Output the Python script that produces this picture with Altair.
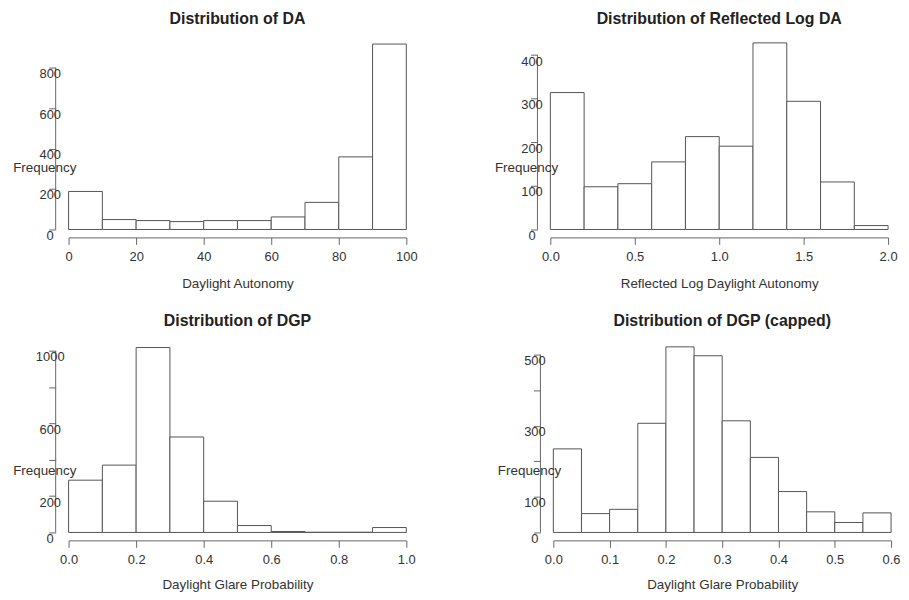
import altair as alt
import pandas as pd

# ---------------- data ----------------
da_starts = [0, 10, 20, 30, 40, 50, 60, 70, 80, 90]
da_counts = [188, 49, 44, 39, 44, 44, 62, 134, 359, 917]

rlda_starts = [0.0, 0.2, 0.4, 0.6, 0.8, 1.0, 1.2, 1.4, 1.6, 1.8]
rlda_counts = [314, 98, 105, 155, 213, 191, 428, 294, 109, 9]

dgp_starts = [0.0, 0.1, 0.2, 0.3, 0.4, 0.5, 0.6, 0.7, 0.8, 0.9]
dgp_counts = [288, 371, 1019, 526, 172, 38, 5, 1, 1, 27]

dgpc_starts = [0.0, 0.05, 0.10, 0.15, 0.20, 0.25, 0.30, 0.35, 0.40, 0.45, 0.50, 0.55]
dgpc_counts = [235, 53, 65, 307, 522, 497, 314, 211, 115, 58, 28, 55]

W = 340
H = 194
FONT = "Liberation Sans"


def panel(title, starts, binw, counts, x_ticks, x_fmt, x_title,
          y_ticks, y_hidden, y_max, title_offset, x_label_pad, x_title_pad):
    df = pd.DataFrame({
        "start": starts,
        "end": [round(s + binw, 4) for s in starts],
        "count": counts,
        "base": [0] * len(starts),
    })
    xscale = alt.Scale(domain=[x_ticks[0], x_ticks[-1]], nice=False, zero=False)
    yscale = alt.Scale(domain=[0, y_max], nice=False)
    if y_hidden:
        expr = " || ".join(f"datum.value == {v}" for v in y_hidden) + " ? '' : datum.label"
    else:
        expr = "datum.label"
    yaxis = alt.Axis(values=y_ticks, labelExpr=expr, format="d", title="Frequency",
                     titleAngle=0, titleX=-11.5, titleY=H - 62.5,
                     titleAlign="center", titleBaseline="middle",
                     offset=13, domain=False, tickSize=7, labelPadding=-1,
                     labelAlign="center", labelBaseline="middle",
                     labelOffset=6, grid=False, zindex=1)
    bars = alt.Chart(df).mark_rect(fill="white", stroke="#555", strokeWidth=1).encode(
        x=alt.X("start:Q", scale=xscale,
                axis=alt.Axis(values=x_ticks, format=x_fmt, title=x_title, offset=8,
                              tickSize=7, labelPadding=x_label_pad,
                              titlePadding=x_title_pad,
                              grid=False, labelFlush=False)),
        x2="end:Q",
        y=alt.Y("count:Q", scale=yscale, axis=yaxis),
        y2="base:Q",
    )
    rule_df = pd.DataFrame({"lo": [0], "hi": [y_ticks[-1]]})
    rule = alt.Chart(rule_df).mark_rule(color="#666", strokeWidth=1).encode(
        y=alt.Y("lo:Q", scale=yscale, axis=yaxis),
        y2="hi:Q",
        x=alt.value(-13),
    )
    return alt.layer(bars, rule).properties(
        width=W, height=H,
        title=alt.TitleParams(title, fontSize=16, fontWeight="bold", font=FONT,
                              color="#222", offset=title_offset, anchor="middle"),
    )


p1 = panel("Distribution of DA", da_starts, 10, da_counts,
           [0, 20, 40, 60, 80, 100], "d", "Daylight Autonomy",
           [0, 200, 400, 600, 800], [], 953, 10, 6, 13)
p2 = panel("Distribution of Reflected Log DA", rlda_starts, 0.2, rlda_counts,
           [0.0, 0.5, 1.0, 1.5, 2.0], ".1f", "Reflected Log Daylight Autonomy",
           [0, 100, 200, 300, 400], [], 442, 10, 6, 13)
p3 = panel("Distribution of DGP", dgp_starts, 0.1, dgp_counts,
           [0.0, 0.2, 0.4, 0.6, 0.8, 1.0], ".1f", "Daylight Glare Probability",
           [0, 200, 400, 600, 800, 1000], [400, 800], 1062, 11, 6, 11)
p4 = panel("Distribution of DGP (capped)", dgpc_starts, 0.05, dgpc_counts,
           [0.0, 0.1, 0.2, 0.3, 0.4, 0.5, 0.6], ".1f", "Daylight Glare Probability",
           [0, 100, 200, 300, 400, 500], [200, 400], 542, 11, 6, 11)

row1 = alt.hconcat(p1, p2, spacing=77)
row2 = alt.hconcat(p3, p4, spacing=81)

chart = alt.vconcat(row1, row2, spacing=23).properties(
    padding={"left": 4, "top": 1, "right": 0, "bottom": 0},
    background="white",
).configure_view(stroke=None).configure_axis(
    labelFont=FONT, titleFont=FONT, labelFontSize=13, titleFontSize=13.5,
    labelColor="#333", titleColor="#333", titleFontWeight="normal",
    domainColor="#666", tickColor="#666",
).configure_concat(spacing=20)

chart.save("out.html", embed_options={"renderer": "svg", "actions": False})
